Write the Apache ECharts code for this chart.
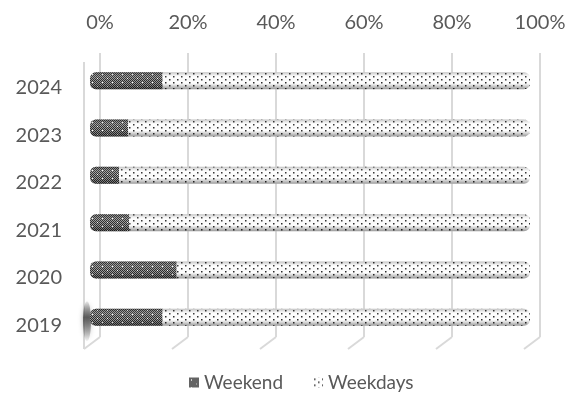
<!DOCTYPE html>
<html>
<head>
<meta charset="utf-8">
<script src="https://cdn.jsdelivr.net/npm/echarts@6.0.0/dist/echarts.min.js"></script>
<style>
    html, body { margin: 0; padding: 0; background: #fff; }
    #chart { width: 572px; height: 403px; }
</style>
</head>
<body>
<div id="chart"></div>
<script>
const years = ["2019", "2020", "2021", "2022", "2023", "2024"];
const weekend = [16.5, 19.7, 8.9, 6.6, 8.7, 16.5];
const weekdays = [83.5, 80.3, 91.1, 93.4, 91.3, 83.5];
const full = [100, 100, 100, 100, 100, 100];

const textColor = "#595959";
const lineColor = "#d9d9d9";
const font = "Lato, 'Open Sans', sans-serif";

// dark crosshatch for weekend
function crossPattern() {
    const c = document.createElement("canvas");
    c.width = 10;
    c.height = 8;
    const ctx = c.getContext("2d");
    ctx.fillStyle = "#9c9c9c";
    ctx.fillRect(0, 0, 10, 8);
    ctx.fillStyle = "#2b2b2b";
    for (let x = 0; x < 10; x++) {
        for (let y = 0; y < 8; y++) {
            if ((x + y) % 2 === 0) ctx.fillRect(x, y, 1, 1);
        }
    }
    ctx.fillStyle = "#ffffff";
    ctx.fillRect(2, 2, 1, 1);
    ctx.fillRect(7, 6, 1, 1);
    return c;
}

// sparse dots for weekdays
function dotPattern() {
    const c = document.createElement("canvas");
    c.width = 8;
    c.height = 6;
    const ctx = c.getContext("2d");
    ctx.fillStyle = "#ffffff";
    ctx.fillRect(0, 0, 8, 6);
    ctx.fillStyle = "#2a2a2a";
    ctx.fillRect(1, 1, 1.5, 1.5);
    ctx.fillRect(5, 4, 1.5, 1.5);
    return c;
}

const chart = echarts.init(document.getElementById("chart"));

const shade = {
    type: "linear", x: 0, y: 0, x2: 0, y2: 1,
    colorStops: [
        { offset: 0, color: "rgba(0,0,0,0.25)" },
        { offset: 0.3, color: "rgba(255,255,255,0.08)" },
        { offset: 0.65, color: "rgba(0,0,0,0)" },
        { offset: 1, color: "rgba(0,0,0,0.4)" },
    ],
};

chart.setOption({
    animation: false,
    backgroundColor: "#ffffff",
    textStyle: { fontFamily: font },
    grid: [
        { left: 90, right: 42, top: 57, bottom: 62 },
        { left: 70, right: 42, top: 64, bottom: 54 },
        { left: 100, right: 32, top: 53, bottom: 66 },
    ],
    legend: {
        data: ["Weekend", "Weekdays"],
        bottom: 6,
        left: 184,
        itemWidth: 10,
        itemHeight: 10,
        itemGap: 30,
        icon: "rect",
        textStyle: { color: textColor, fontSize: 19, fontFamily: font },
    },
    xAxis: [
        { gridIndex: 0, type: "value", min: 0, max: 100, show: false },
        { gridIndex: 1, type: "value", min: 0, max: 100, show: false },
        {
            gridIndex: 2,
            type: "value",
            position: "top",
            min: 0,
            max: 100,
            interval: 20,
            axisLine: { show: false },
            axisTick: { show: false },
            axisLabel: { formatter: "{value}%", color: textColor, fontSize: 20, margin: 20, fontFamily: font },
            splitLine: { lineStyle: { color: lineColor, width: 2 } },
        },
    ],
    yAxis: [
        { gridIndex: 0, type: "category", data: years, show: false },
        {
            gridIndex: 1,
            type: "category",
            data: years,
            axisLine: { show: false },
            axisTick: { show: false },
            axisLabel: { color: textColor, fontSize: 20, margin: 8, fontFamily: font },
        },
        { gridIndex: 2, type: "value", min: 0, max: 1, show: false },
    ],
    series: [
        {
            name: "Weekend",
            type: "bar",
            stack: "total",
            xAxisIndex: 0,
            yAxisIndex: 0,
            barWidth: 17,
            barGap: "-100%",
            itemStyle: { color: { image: crossPattern(), repeat: "repeat" }, borderRadius: [6, 0, 0, 6] },
            data: weekend,
        },
        {
            name: "Weekdays",
            type: "bar",
            stack: "total",
            xAxisIndex: 0,
            yAxisIndex: 0,
            barWidth: 17,
            barGap: "-100%",
            itemStyle: { color: { image: dotPattern(), repeat: "repeat" }, borderRadius: [0, 6, 6, 0] },
            data: weekdays,
        },
        {
            name: "shade",
            type: "bar",
            stack: "shade",
            xAxisIndex: 0,
            yAxisIndex: 0,
            barWidth: 17,
            barGap: "-100%",
            silent: true,
            itemStyle: { color: shade, borderRadius: 6 },
            data: full,
        },
    ],
});

// floor diagonals and left wall, placed from the gridline axis
const floorY = chart.convertToPixel({ gridIndex: 2 }, [0, 0])[1];
const topY = chart.convertToPixel({ gridIndex: 2 }, [0, 1])[1];
const extras = [];
[0, 20, 40, 60, 80, 100].forEach((v) => {
    const x = chart.convertToPixel({ xAxisIndex: 2 }, v);
    extras.push({
        type: "polyline",
        silent: true,
        shape: { points: [[x, floorY], [x - 16, floorY + 12]] },
        style: { stroke: lineColor, lineWidth: 2, fill: null },
    });
});
const x0 = chart.convertToPixel({ xAxisIndex: 2 }, 0);
extras.push({
    type: "line",
    silent: true,
    shape: { x1: x0 - 16, y1: topY + 9, x2: x0 - 16, y2: floorY + 12 },
    style: { stroke: lineColor, lineWidth: 2 },
});
// soft shadow at the foot of the first bar
const foot = chart.convertToPixel({ gridIndex: 0 }, [0, years[0]]);
extras.push({
    type: "ellipse",
    silent: true,
    z: 1,
    shape: { cx: foot[0] - 3, cy: foot[1] + 4, rx: 4, ry: 20 },
    style: {
        fill: {
            type: "linear", x: 0, y: 0, x2: 0, y2: 1,
            colorStops: [
                { offset: 0, color: "rgba(60,60,60,0.1)" },
                { offset: 0.4, color: "rgba(60,60,60,0.75)" },
                { offset: 1, color: "rgba(60,60,60,0.05)" },
            ],
        },
        shadowBlur: 5,
        shadowColor: "rgba(60,60,60,0.6)",
    },
});
chart.setOption({ graphic: extras });
</script>
</body>
</html>
